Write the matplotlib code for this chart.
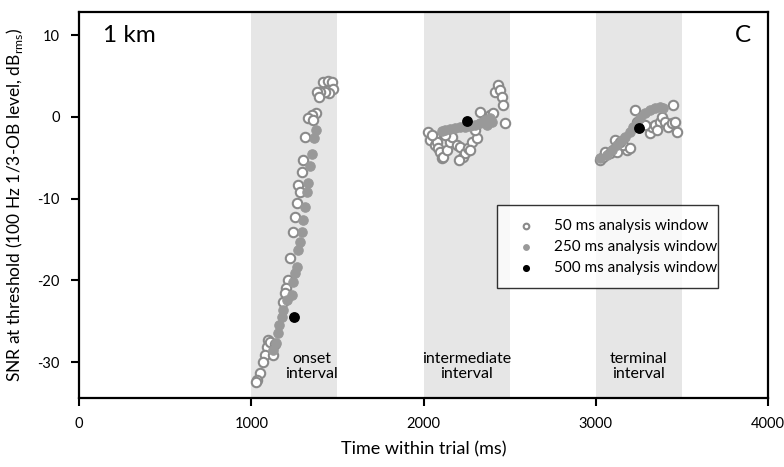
import matplotlib
matplotlib.use("Agg")
import matplotlib.pyplot as plt

plt.rcParams['font.family'] = ['Lato', 'DejaVu Sans']
plt.rcParams['axes.unicode_minus'] = False

# 50 ms analysis window (open circles)
t50 = [1417, 1446, 1469, 1475, 1451, 1428, 1399, 1382, 1393, 1376, 1353, 1329, 1358,
       1312, 1300, 1295, 1271, 1283, 1266, 1254, 1242, 1225, 1213, 1202, 1196, 1184,
       1097, 1091, 1080, 1068, 1051, 1033, 1126, 1025, 1110, 1140,
       2026, 2038, 2067, 2067, 2078, 2084, 2096, 2107, 2113, 2136, 2154, 2165, 2194,
       2212, 2229, 2241, 2258, 2282, 2311, 2328, 2386, 2403, 2415, 2433, 2444, 2456,
       2462, 2473, 2125, 2049, 2206, 2270, 2299, 2357,
       3025, 3042, 3054, 3083, 3100, 3123, 3112, 3181, 3158, 3228, 3239, 3315, 3327,
       3344, 3373, 3385, 3402, 3420, 3443, 3449, 3460, 3472, 3199, 3141, 3286, 3356]
snr50 = [4.3, 4.4, 4.3, 3.4, 2.9, 3.1, 3.1, 3.1, 2.4, 0.5, 0.2, -0.1, -0.4,
         -2.4, -5.3, -6.7, -8.3, -9.2, -10.5, -12.2, -14.1, -17.3, -20.0, -20.9, -21.5, -22.6,
         -27.3, -28.2, -29.1, -30.0, -31.3, -32.2, -29.1, -32.4, -27.6, -27.8,
         -1.8, -2.8, -2.4, -3.4, -3.1, -3.8, -4.3, -5.0, -4.9, -4.0, -3.1, -2.4, -3.4,
         -3.7, -4.9, -4.4, -3.8, -3.1, -2.6, 0.6, 0.2, 0.5, 3.1, 3.9, 3.3, 2.4,
         1.5, -0.7, -2.2, -2.2, -5.3, -4.0, -1.6, -0.4,
         -5.3, -4.9, -4.3, -4.4, -4.0, -4.3, -2.8, -4.0, -3.4, 0.9, -0.6, -2.0, -1.2,
         -1.0, -0.6, 0.0, -0.6, -1.2, -0.7, 1.5, -0.6, -1.8, -3.8, -3.1, -1.0, -1.6]

# 250 ms analysis window (grey filled)
t250 = [1376, 1364, 1353, 1341, 1329, 1324, 1312, 1300, 1295, 1283, 1271, 1266, 1254,
        1242, 1237, 1208, 1184, 1179, 1161, 1155, 1144, 1126,
        2107, 2125, 2154, 2183, 2212, 2241, 2270, 2299, 2328, 2357, 2386, 2369, 2398,
        3025, 3065, 3094, 3123, 3152, 3170, 3199, 3216, 3239, 3257, 3286, 3315, 3344,
        3373, 3391]
snr250 = [-1.6, -2.6, -4.5, -6.0, -8.1, -9.2, -11.0, -12.6, -14.1, -15.3, -16.3, -18.4, -19.1,
          -20.2, -21.8, -22.4, -23.6, -24.5, -25.5, -26.4, -27.7, -28.5,
          -1.7, -1.6, -1.5, -1.3, -1.2, -1.2, -1.1, -1.0, -0.7, -0.4, -0.1, -1.0, -0.6,
          -5.0, -4.7, -4.0, -3.4, -2.8, -2.4, -1.8, -1.2, -0.7, -0.1, 0.5, 0.9, 1.1,
          1.2, 1.1]

# 500 ms analysis window (black)
t500 = [1250, 2250, 3250]
snr500 = [-24.5, -0.5, -1.4]

intervals = [(1000, 1500), (2000, 2500), (3000, 3500)]
interval_names = ["onset\ninterval", "intermediate\ninterval", "terminal\ninterval"]

fig = plt.figure(figsize=(7.84, 4.67), dpi=100)
ax = fig.add_axes([0.1008, 0.1478, 0.8788, 0.8265])

for (a, b), name in zip(intervals, interval_names):
    ax.axvspan(a, b, color="#e6e6e6", lw=0, zorder=0)
    ax.text((a + b) / 2 + (100 if a == 1000 else 0), -30.5, name, ha="center", va="center",
            fontsize=11.5, linespacing=1.1)

ax.scatter(t50, snr50, s=46, facecolor="white", edgecolor="#8a8a8a", linewidth=1.5,
           zorder=3, label="50 ms analysis window")
ax.scatter(t250, snr250, s=46, facecolor="#999999", edgecolor="#999999", linewidth=0.8,
           zorder=4, label="250 ms analysis window")
ax.scatter(t500, snr500, s=46, facecolor="black", edgecolor="black",
           zorder=5, label="500 ms analysis window")

ax.set_xlim(0, 4000)
ax.set_ylim(-34.4, 12.85)
ax.set_xticks([0, 1000, 2000, 3000, 4000])
ax.set_yticks([10, 0, -10, -20, -30])
ax.tick_params(direction="out", length=6, width=1.5, labelsize=10.5, pad=8)
for sp in ax.spines.values():
    sp.set_linewidth(1.6)

ax.set_xlabel("Time within trial (ms)", fontsize=13, labelpad=7)
ax.set_ylabel("SNR at threshold (100 Hz 1/3-OB level, dB$_{\\mathregular{rms}}$)",
              fontsize=12.5, labelpad=9)

ax.text(0.035, 0.94, "1 km", transform=ax.transAxes, fontsize=17.5, va="center")
ax.text(0.975, 0.94, "C", transform=ax.transAxes, fontsize=17.5, va="center", ha="right")

leg = ax.legend(loc="lower left", bbox_to_anchor=(0.607, 0.284, 0.32, 0.21), mode="expand",
                fontsize=11, markerscale=0.6, frameon=True, fancybox=False,
                borderpad=0.9, labelspacing=0.45, handletextpad=0.8, borderaxespad=0)
leg.get_frame().set_edgecolor("black")
leg.get_frame().set_linewidth(1.0)

fig.savefig("out.png", dpi=100)
